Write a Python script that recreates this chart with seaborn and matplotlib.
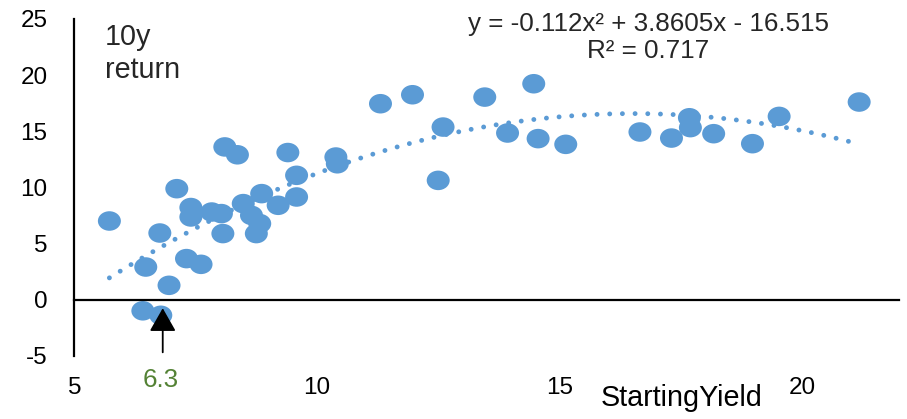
import numpy as np
import matplotlib.pyplot as plt
import seaborn as sns
from matplotlib.path import Path

# --- data ---
starting_yield = [5.72, 6.76, 6.47, 6.95, 6.41, 6.78, 7.31, 7.61, 7.40, 7.40,
                  7.83, 8.03, 8.06, 8.10, 8.36, 7.11, 9.40, 9.58, 9.58, 8.86,
                  8.48, 9.20, 8.65, 8.82, 8.75, 10.39, 10.42, 11.31, 11.97, 12.60,
                  12.50, 13.46, 14.47, 13.93, 14.56, 15.13, 16.66, 17.31, 17.68, 17.70,
                  18.18, 18.98, 19.53, 21.18]
return_10y = [7.0, 5.93, 2.9, 1.27, -1.0, -1.4, 3.65, 3.14, 8.2, 7.36,
              7.8, 7.66, 5.88, 13.6, 12.9, 9.88, 13.1, 11.07, 9.14, 9.44,
              8.55, 8.4, 7.5, 6.77, 5.88, 12.7, 12.1, 17.45, 18.25, 15.37,
              10.62, 18.04, 19.23, 14.84, 14.34, 13.83, 14.93, 14.39, 16.2, 15.32,
              14.78, 13.89, 16.32, 17.6]

x_ticks = [5, 10, 15, 20]
y_ticks = [-5, 0, 5, 10, 15, 20, 25]
equation_text = "y = -0.112x\u00b2 + 3.8605x - 16.515\nR\u00b2 = 0.717"
current_yield_label = "6.3"
current_yield_x = 6.82

BLUE = "#5B9BD5"
GREEN = "#548235"

sns.set_style("white")
plt.rcParams["font.family"] = ["Liberation Sans", "DejaVu Sans"]
plt.rcParams["axes.unicode_minus"] = False

fig = plt.figure(figsize=(9.07, 4.19), dpi=100)
ax = fig.add_axes([0.0821, 0.1511, 0.9090, 0.8036])

# slightly flattened round markers, like the Excel original
circle = Path.unit_circle()
ellipse = Path(circle.vertices * np.array([1.0, 0.85]), circle.codes)

sns.scatterplot(x=starting_yield, y=return_10y, ax=ax, marker=ellipse, s=274,
                color=BLUE, edgecolor="none", linewidth=0, zorder=2)

# polynomial (order 2) trendline
sns.regplot(x=starting_yield, y=return_10y, ax=ax, order=2, ci=None, scatter=False,
            truncate=True,
            line_kws=dict(color=BLUE, lw=3.5, linestyle=(0, (0.01, 2.6)),
                          dash_capstyle="round", zorder=3))

ax.set_xlim(5, 22)
ax.set_ylim(-5, 25)
ax.set_xticks(x_ticks)
ax.set_yticks(y_ticks)

for side in ["top", "right"]:
    ax.spines[side].set_visible(False)
ax.spines["bottom"].set_position(("data", 0))
for side in ["left", "bottom"]:
    ax.spines[side].set_linewidth(1.6)
    ax.spines[side].set_color("black")

ax.tick_params(axis="y", direction="out", length=7, width=1.6, pad=12.5,
               labelsize=17.5, colors="black")
ax.tick_params(axis="x", direction="out", length=5.8, width=1.6, pad=50,
               labelsize=17.5, colors="black")

ax.set_xlabel("StartingYield", fontsize=20.7, color="black")
ax.xaxis.set_label_coords(0.736, -0.0855)
ax.set_ylabel("")

# baseline of multi-line text is taken from the last line
ax.text(0.037, 0.8248, "10y\nreturn", transform=ax.transAxes, fontsize=20.7,
        va="baseline", ha="left", linespacing=1.22)
ax.text(0.696, 0.8842, equation_text, transform=ax.transAxes, fontsize=18.7,
        va="baseline", ha="center", multialignment="center", linespacing=1.15)

# arrow + label for the current yield
ax.annotate("", xy=(current_yield_x, -0.77), xytext=(current_yield_x, -4.7),
            arrowprops=dict(arrowstyle="-|>,head_length=0.72,head_width=0.41",
                            mutation_scale=20, lw=1.3, color="black",
                            shrinkA=0, shrinkB=0),
            annotation_clip=False)
ax.text(current_yield_x - 0.04, -7.78, current_yield_label, color=GREEN,
        fontsize=18.7, ha="center", va="baseline")

fig.savefig("out.png", dpi=100)
